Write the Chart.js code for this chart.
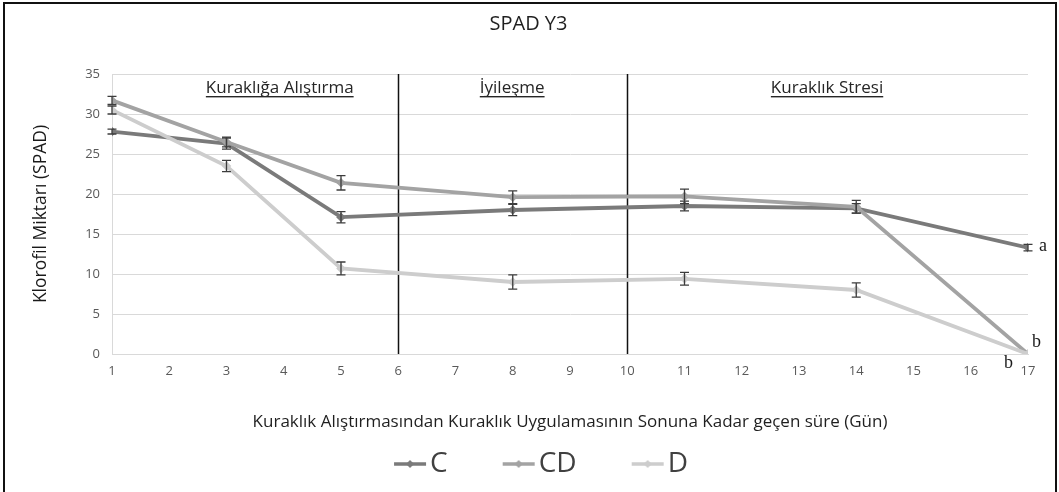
<!DOCTYPE html>
<html><head><meta charset="utf-8">
<script src="https://cdn.jsdelivr.net/npm/chart.js@4.4.0/dist/chart.umd.min.js"></script>
<style>
html,body{margin:0;padding:0;background:#fff;}
#wrap{position:relative;width:1059px;height:492px;overflow:hidden;}
#frame{position:absolute;left:3px;top:2px;width:1050px;height:530px;border:2px solid #111;pointer-events:none;}
canvas{position:absolute;left:0;top:0;}
</style></head><body>
<div id="wrap"><canvas id="c" width="1059" height="492"></canvas><div id="frame"></div></div>
<script>
// ---- data ----
const days = [1, 3, 5, 8, 11, 14, 17];
const seriesNames = ['C', 'CD', 'D'];
const valuesC  = [27.8, 26.3, 17.1, 18.0, 18.5, 18.2, 13.3];
const valuesCD = [31.7, 26.5, 21.4, 19.6, 19.7, 18.4, 0];
const valuesD  = [30.5, 23.5, 10.7, 9.0, 9.4, 8.0, 0];
const errC  = [0.3, 0.7, 0.7, 0.7, 0.6, 0.6, 0.4];
const errCD = [0.5, 0.6, 0.9, 0.8, 0.9, 0.8, 0];
const errD  = [0.5, 0.7, 0.8, 0.9, 0.8, 0.9, 0];
const phaseBoundaries = [6, 10];
const phaseLabels = ['Kuraklığa Alıştırma', 'İyileşme', 'Kuraklık Stresi'];
const phaseLabelCenters = [3.93, 7.99, 13.49];
const groupLetters = ['a', 'b', 'b'];
const xMin = 1, xMax = 17, xStep = 1;
const yMin = 0, yMax = 35, yStep = 5;
const titleText = 'SPAD Y3';
const xTitle = 'Kuraklık Alıştırmasından Kuraklık Uygulamasının Sonuna Kadar geçen süre (Gün)';
const yTitle = 'Klorofil Miktarı (SPAD)';

const colors = ['#7a7a7a', '#a3a3a3', '#cdcdcd'];
const FONT = "'Open Sans', sans-serif";

function toPts(vals){ return days.map((d,i)=>({x:d, y:vals[i]})); }

function legendImage(color){
  const c = document.createElement('canvas');
  c.width = 91; c.height = 28;
  const g = c.getContext('2d');
  g.strokeStyle = color; g.lineWidth = 3.5;
  g.beginPath(); g.moveTo(57, 14); g.lineTo(89, 14); g.stroke();
  g.fillStyle = color;
  g.beginPath(); g.moveTo(73, 10); g.lineTo(77, 14); g.lineTo(73, 18); g.lineTo(69, 14); g.closePath(); g.fill();
  return c;
}
const legendImages = colors.map(legendImage);

const errorBarPlugin = {
  id: 'errorBars',
  afterDatasetsDraw(chart){
    const ctx = chart.ctx, xs = chart.scales.x, ys = chart.scales.y;
    ctx.save();
    ctx.strokeStyle = '#3c3c3c'; ctx.lineWidth = 1.3;
    chart.data.datasets.forEach(ds => {
      ds.data.forEach((pt, j) => {
        const e = ds.errors[j]; if (!e) return;
        const x = xs.getPixelForValue(pt.x);
        const y1 = ys.getPixelForValue(pt.y + e), y2 = ys.getPixelForValue(pt.y - e);
        ctx.beginPath();
        ctx.moveTo(x, y1); ctx.lineTo(x, y2);
        ctx.moveTo(x - 4.5, y1); ctx.lineTo(x + 4.5, y1);
        ctx.moveTo(x - 4.5, y2); ctx.lineTo(x + 4.5, y2);
        ctx.stroke();
      });
    });
    ctx.restore();
  }
};

const legendShiftPlugin = {
  id: 'legendShift',
  afterLayout(chart){
    if (chart.legend) { chart.legend.left -= 10; chart.legend.right -= 10; }
  }
};

const phasePlugin = {
  id: 'phases',
  beforeDatasetsDraw(chart){
    const ctx = chart.ctx, xs = chart.scales.x, a = chart.chartArea;
    ctx.save();
    ctx.strokeStyle = '#111'; ctx.lineWidth = 1.5;
    phaseBoundaries.forEach(v => {
      const x = Math.round(xs.getPixelForValue(v)) + 0.5;
      ctx.beginPath(); ctx.moveTo(x, a.top); ctx.lineTo(x, a.bottom); ctx.stroke();
    });
    ctx.font = "17px " + FONT;
    ctx.fillStyle = '#262626';
    ctx.textAlign = 'center'; ctx.textBaseline = 'alphabetic';
    phaseLabels.forEach((t, i) => {
      const x = xs.getPixelForValue(phaseLabelCenters[i]);
      const y = a.top + 19;
      ctx.fillText(t, x, y);
      const w = ctx.measureText(t).width;
      ctx.fillRect(x - w/2, y + 3, w, 1.4);
    });
    ctx.restore();
  },
  afterDatasetsDraw(chart){
    const ctx = chart.ctx, xs = chart.scales.x, ys = chart.scales.y;
    ctx.save();
    ctx.font = "18px 'Liberation Serif', serif";
    ctx.fillStyle = '#1a1a1a';
    ctx.textBaseline = 'middle';
    const last = days.length - 1;
    const px = xs.getPixelForValue(days[last]);
    ctx.textAlign = 'left';
    ctx.fillText(groupLetters[0], px + 11, ys.getPixelForValue(valuesC[last]) - 1);
    ctx.fillText(groupLetters[1], px + 4, ys.getPixelForValue(valuesCD[last]) - 12);
    ctx.textAlign = 'right';
    ctx.fillText(groupLetters[2], px - 15, ys.getPixelForValue(valuesD[last]) + 9);
    ctx.restore();
  }
};

const allVals = [valuesC, valuesCD, valuesD];
const allErr = [errC, errCD, errD];

new Chart(document.getElementById('c'), {
  type: 'line',
  data: {
    datasets: seriesNames.map((n, i) => ({
      label: n,
      data: toPts(allVals[i]),
      errors: allErr[i],
      borderColor: colors[i],
      backgroundColor: colors[i],
      borderWidth: 3.8,
      pointStyle: 'rectRot',
      pointRadius: 4.8,
      pointBorderWidth: 0,
      pointBackgroundColor: colors[i],
      tension: 0,
      order: 3 - i
    }))
  },
  options: {
    responsive: false,
    animation: false,
    events: [],
    layout: { padding: { left: 29, right: 31, top: 0, bottom: 4 } },
    plugins: {
      tooltip: { enabled: false },
      title: {
        display: true, text: titleText, color: '#1f1f1f',
        font: { family: FONT, size: 20, weight: 'normal' },
        padding: { top: 12, bottom: 38 }
      },
      legend: {
        display: true, position: 'bottom',
        labels: {
          font: { family: FONT, size: 28 },
          color: '#404040',
          padding: 10,
          usePointStyle: true,
          pointStyleWidth: 67,
          sort: (a, b) => a.datasetIndex - b.datasetIndex,
          generateLabels(chart){
            const items = Chart.defaults.plugins.legend.labels.generateLabels(chart);
            items.forEach(it => { it.pointStyle = legendImages[it.datasetIndex]; });
            return items;
          }
        }
      }
    },
    scales: {
      x: {
        type: 'linear', min: xMin, max: xMax,
        ticks: { stepSize: xStep, color: '#595959', font: { family: FONT, size: 13 }, padding: 9, maxRotation: 0 },
        grid: { display: false, drawTicks: false },
        border: { display: true, color: '#d9d9d9' },
        title: { display: true, text: xTitle, color: '#1f1f1f', font: { family: FONT, size: 17 }, padding: { top: 4, bottom: 8 } },
        afterFit(s){ s.height = 86; }
      },
      y: {
        min: yMin, max: yMax,
        ticks: { stepSize: yStep, color: '#595959', font: { family: FONT, size: 13 }, padding: 12 },
        grid: { color: '#d9d9d9', drawTicks: false },
        border: { display: true, color: '#d9d9d9' },
        title: { display: true, text: yTitle, color: '#1a1a1a', font: { family: FONT, size: 17.5 }, padding: { top: 2, bottom: 4 } },
        afterFit(s){ s.width = 83; }
      }
    }
  },
  plugins: [phasePlugin, errorBarPlugin, legendShiftPlugin]
});
</script>
</body></html>
